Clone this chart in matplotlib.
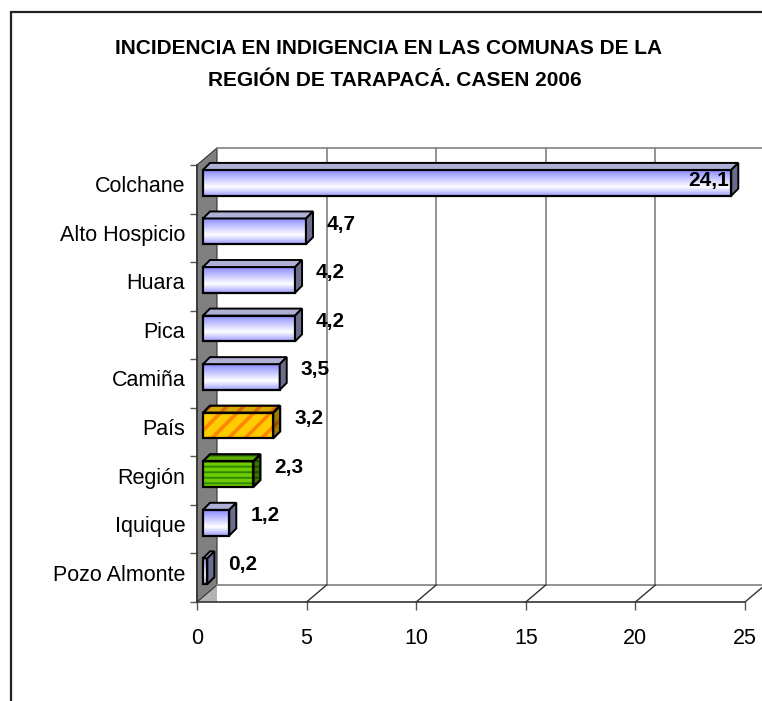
import numpy as np
import matplotlib
matplotlib.use("Agg")
import matplotlib.pyplot as plt
from matplotlib.patches import Polygon, Rectangle
from matplotlib.transforms import Affine2D, IdentityTransform
from matplotlib.colors import to_rgb

plt.rcParams['font.family'] = ['Liberation Sans', 'DejaVu Sans']
plt.rcParams['hatch.linewidth'] = 2.6

# ---- data (bottom to top) ----
categories = ['Pozo Almonte', 'Iquique', 'Región', 'País', 'Camiña',
              'Pica', 'Huara', 'Alto Hospicio', 'Colchane']
values = [0.2, 1.2, 2.3, 3.2, 3.5, 4.2, 4.2, 4.7, 24.1]
value_labels = ['0,2', '1,2', '2,3', '3,2', '3,5', '4,2', '4,2', '4,7', '24,1']
styles = ['plain', 'plain', 'region', 'pais', 'plain', 'plain', 'plain', 'plain', 'plain']
xticks = [0, 5, 10, 15, 20, 25]
title1 = 'INCIDENCIA EN INDIGENCIA EN LAS COMUNAS DE LA'
title2 = 'REGIÓN DE TARAPACÁ. CASEN 2006'

W, H = 762, 701
fig = plt.figure(figsize=(W / 100, H / 100), dpi=100)
fig.patch.set_facecolor('white')

# figure frame (left/top visible)
fig.patches.append(Rectangle((11 / W, -0.1), 1.2, 1.1 - 12 / H,
                             transform=fig.transFigure, fill=False,
                             edgecolor='#222222', linewidth=1.6, clip_on=False))

ax = fig.add_axes([197 / W, 99 / H, 548 / W, 437 / H])
ax.set_xlim(0, 25)
ax.set_ylim(-0.5, len(categories) - 0.5)
ax.patch.set_alpha(0)
for s in ['top', 'right']:
    ax.spines[s].set_visible(False)
for s in ['left', 'bottom']:
    ax.spines[s].set_color('#333333')
    ax.spines[s].set_linewidth(1.2)
    ax.spines[s].set_zorder(6)

ax.set_xticks(xticks)
ax.set_xticklabels([str(t) for t in xticks])
ax.tick_params(axis='x', direction='out', length=5.5, width=1, color='#555555',
               labelsize=15.5, pad=13)
ypos = np.arange(len(categories))
ax.set_yticks(ypos)
ax.set_yticklabels(categories)
ax.set_yticks(np.arange(len(categories) + 1) - 0.5, minor=True)
ax.tick_params(axis='y', which='major', length=0, labelsize=15.5, pad=8.5)
ax.tick_params(axis='y', which='minor', direction='out', length=5, width=1, color='#555555')
for lab in ax.get_yticklabels():
    lab.set_transform(lab.get_transform() + Affine2D().translate(0, 5))

fig.canvas.draw()
D = np.array([20.0, 17.0])      # depth vector of the box (pixels)
F = np.array([6.0, 6.5])        # bar front face offset
B = np.array([13.0, 13.5])      # bar back face offset
ID = IdentityTransform()


def P(x, y, off=(0.0, 0.0)):
    return ax.transData.transform((x, y)) + np.asarray(off)


def poly(pts, **kw):
    p = Polygon(np.array(pts), closed=True, transform=ID, clip_on=False, **kw)
    ax.add_patch(p)
    return p


y0, y1 = -0.5, len(categories) - 0.5
grid = '#808080'

# floor corner + wall
poly([P(0, y0), P(0, y0, D), P(0, y0, (D[0], 0))], facecolor='#b4b4b4', edgecolor='none', zorder=1)
poly([P(0, y0), P(0, y1), P(0, y1, D), P(0, y0, D)], facecolor='#808080',
     edgecolor='#333333', linewidth=0.8, zorder=1)
# back floor edge, back top edge
for (a, b) in [(P(0, y0, D), P(25, y0, D)), (P(0, y1, D), P(25, y1, D))]:
    ax.plot([a[0], b[0]], [a[1], b[1]], color=grid, lw=1.2, transform=ID, clip_on=False, zorder=1)
# gridlines on back wall and floor diagonals
for t in xticks[1:]:
    a, b = P(t, y0, D), P(t, y1, D)
    ax.plot([a[0], b[0]], [a[1], b[1]], color=grid, lw=1.2, transform=ID, clip_on=False, zorder=1)
    a, b = P(t, y0), P(t, y0, D)
    ax.plot([a[0], b[0]], [a[1], b[1]], color='#333333', lw=1.0, transform=ID, clip_on=False, zorder=1)

# ---- bars ----
blue = np.array(to_rgb('#8c8cff'))
white = np.ones(3)
n = 64
tt = np.linspace(0, 1, n)  # 0 = top, 1 = bottom
wmix = np.where(tt < 0.65, tt / 0.65, 1 - (tt - 0.65) / 0.35 * 0.85)
grad = (blue[None, :] * (1 - wmix[:, None]) + white[None, :] * wmix[:, None])
grad_img = np.repeat(grad[:, None, :], 2, axis=1)

h = 0.265
order = np.argsort(-ypos)  # draw top rows first
for i in order:
    v, yc, st = values[i], ypos[i], styles[i]
    front = [P(0, yc - h, F), P(v, yc - h, F), P(v, yc + h, F), P(0, yc + h, F)]
    top = [P(0, yc + h, F), P(v, yc + h, F), P(v, yc + h, B), P(0, yc + h, B)]
    side = [P(v, yc - h, F), P(v, yc - h, B), P(v, yc + h, B), P(v, yc + h, F)]
    z = 3 + (len(categories) - yc) * 0.1
    if st == 'plain':
        tr = ax.transData + Affine2D().translate(*F)
        ax.imshow(grad_img, extent=(0, v, yc - h, yc + h), transform=tr, aspect='auto',
                  interpolation='bilinear', zorder=z, clip_on=False)
        poly(front, fill=False, edgecolor='black', linewidth=1.6, zorder=z + 0.01)
        poly(top, facecolor='#b0b0d6', edgecolor='black', linewidth=1.4, zorder=z + 0.01)
        poly(side, facecolor='#6c6c8c', edgecolor='black', linewidth=1.4, zorder=z + 0.01)
    else:
        if st == 'pais':
            cols = [('#ffcc00', '#ff8400', '//'), ('#d9aa00', '#d96e00', '//'), ('#9c7a00', '#995000', '//')]
        else:
            cols = [('#2d8a00', '#70cc00', '---'), ('#2a7a00', '#5cae00', '---'), ('#1a4d00', '#3a7500', '---')]
        for pts, (fc, hc, ht) in zip([front, top, side], cols):
            poly(pts, facecolor=fc, edgecolor=hc, hatch=ht, linewidth=0, zorder=z)
            poly(pts, fill=False, edgecolor='black', linewidth=1.6, zorder=z + 0.01)
    # value label
    if v > 20:
        p = P(v, yc, (4, 9))
        ax.text(p[0], p[1], value_labels[i], transform=ID, ha='right', va='center',
                fontsize=15, fontweight='bold', zorder=z + 0.005, clip_on=False)
    else:
        p = P(v, yc, (27, 13.5))
        ax.text(p[0], p[1], value_labels[i], transform=ID, ha='left', va='center',
                fontsize=15, fontweight='bold', zorder=10, clip_on=False)

# title
fig.text(389 / W, 1 - 48 / H, title1, ha='center', va='center', fontsize=15, fontweight='bold')
fig.text(395 / W, 1 - 81 / H, title2, ha='center', va='center', fontsize=15, fontweight='bold')

fig.savefig('out.png', dpi=100)
